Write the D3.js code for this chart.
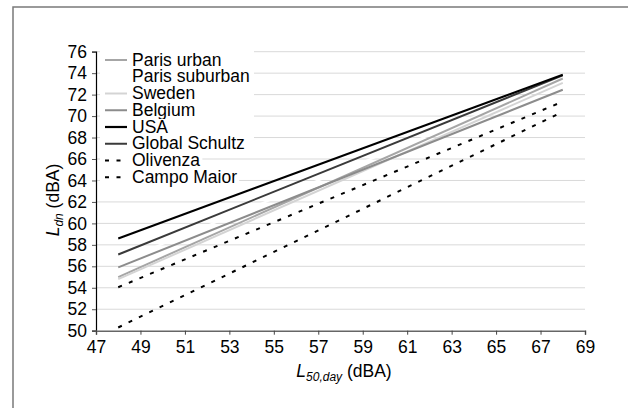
<!DOCTYPE html>
<html><head><meta charset="utf-8">
<script src="https://cdn.jsdelivr.net/npm/d3@7"></script>
<style>html,body{margin:0;padding:0;background:#fff}svg{display:block}</style>
</head><body>
<script>
const categories = ["Paris urban","Paris suburban","Sweden","Belgium","USA","Global Schultz","Olivenza","Campo Maior"];
const xValues = [48, 68];
const parisUrban = [55.0, 73.5];
const parisSuburban = [56.4, 73.3];
const sweden = [54.8, 73.1];
const belgium = [55.9, 72.45];
const usa = [58.6, 73.85];
const globalSchultz = [57.1, 73.8];
const olivenza = [54.05, 71.35];
const campoMaior = [50.3, 70.4];
const xTicks = [47,49,51,53,55,57,59,61,63,65,67,69];
const yTicks = [50,52,54,56,58,60,62,64,66,68,70,72,74,76];

const seriesValues = [parisUrban, parisSuburban, sweden, belgium, usa, globalSchultz, olivenza, campoMaior];
const colors = ["#a6a6a6","#ffffff","#d4d4d4","#8c8c8c","#000000","#3a3a3a","#000000","#000000"];
const dashed = [false,false,false,false,false,false,true,true];

const W = 628, H = 408;
const svg = d3.select("body").append("svg").attr("width", W).attr("height", H)
  .style("font-family", "'Liberation Sans', Arial, sans-serif");

// frame
svg.append("rect").attr("x", 13).attr("y", 7).attr("width", 700).attr("height", 500)
  .attr("fill", "none").attr("stroke", "#7a7a7a").attr("stroke-width", 1.5);

const x = d3.scaleLinear().domain([47, 69]).range([96, 585]);
const y = d3.scaleLinear().domain([50, 76]).range([330.7, 51.7]);

// gridlines
svg.append("g").selectAll("line").data(yTicks.filter(d => d !== 50)).join("line")
  .attr("x1", x(47)).attr("x2", x(69)).attr("y1", d => y(d)).attr("y2", d => y(d))
  .attr("stroke", "#d9d9d9").attr("stroke-width", 1);

// series
const line = d3.line().x((d, i) => x(xValues[i])).y(d => y(d));
const order = [1,0,2,3,5,4,6,7];
svg.append("g").selectAll("path").data(order).join("path")
  .attr("d", i => line(seriesValues[i]))
  .attr("fill", "none")
  .attr("stroke", i => colors[i])
  .attr("stroke-width", i => i === 4 ? 2.2 : 2)
  .attr("stroke-dasharray", i => dashed[i] ? "4,7.5" : null);

// axes
const yAxis = svg.append("g").attr("transform", `translate(${x(47)},0)`)
  .call(d3.axisLeft(y).tickValues(yTicks).tickSize(4).tickPadding(5).tickFormat(d3.format("d")));
yAxis.select(".domain").attr("stroke", "#000").attr("stroke-width", 1.2);
yAxis.selectAll(".tick line").attr("stroke", "#555");
yAxis.selectAll("text").attr("font-size", 17.5).attr("fill", "#000").attr("font-family", "'Liberation Sans', Arial, sans-serif");

const xAxis = svg.append("g").attr("transform", `translate(0,${y(50)})`)
  .call(d3.axisBottom(x).tickValues(xTicks).tickSize(4).tickPadding(6).tickFormat(d3.format("d")));
xAxis.select(".domain").attr("stroke", "#666").attr("stroke-width", 1.5);
xAxis.selectAll(".tick line").attr("stroke", "#444");
xAxis.selectAll("text").attr("font-size", 17.5).attr("fill", "#000").attr("font-family", "'Liberation Sans', Arial, sans-serif");

// legend
const lg = svg.append("g");
lg.append("rect").attr("x", 100).attr("y", 44).attr("width", 154).attr("height", 108).attr("fill", "#fff");
const rowY = i => 60 + i * 16.75;
const entries = lg.selectAll("g.e").data(categories).join("g").attr("class", "e");
entries.each(function(name, i) {
  const g = d3.select(this);
  const bg = g.append("rect").attr("fill", "#fff");
  g.append("line").attr("x1", 105).attr("x2", 127).attr("y1", rowY(i)).attr("y2", rowY(i))
    .attr("stroke", colors[i]).attr("stroke-width", i === 4 ? 2.2 : 2)
    .attr("stroke-dasharray", dashed[i] ? "4,7.5" : null);
  const t = g.append("text").attr("x", 132).attr("y", rowY(i) + 5.5).attr("font-size", 17.5).attr("fill", "#000").text(name);
  const b = t.node().getBBox();
  bg.attr("x", 100).attr("y", rowY(i) - 8).attr("width", b.x + b.width - 100 + 2).attr("height", 16);
});

// axis titles
const yt = svg.append("text").attr("transform", "translate(58.5,200) rotate(-90)")
  .attr("text-anchor", "middle").attr("font-size", 17.5).attr("fill", "#000");
yt.append("tspan").attr("font-style", "italic").text("L");
yt.append("tspan").attr("font-style", "italic").attr("font-size", 12).attr("dy", 4).text("dn");
yt.append("tspan").attr("dy", -4).text(" (dBA)");

const xt = svg.append("text").attr("x", 344).attr("y", 377)
  .attr("text-anchor", "middle").attr("font-size", 17.5).attr("fill", "#000");
xt.append("tspan").attr("font-style", "italic").text("L");
xt.append("tspan").attr("font-style", "italic").attr("font-size", 12).attr("dy", 4).text("50,day");
xt.append("tspan").attr("dy", -4).text(" (dBA)");
</script>
</body></html>
